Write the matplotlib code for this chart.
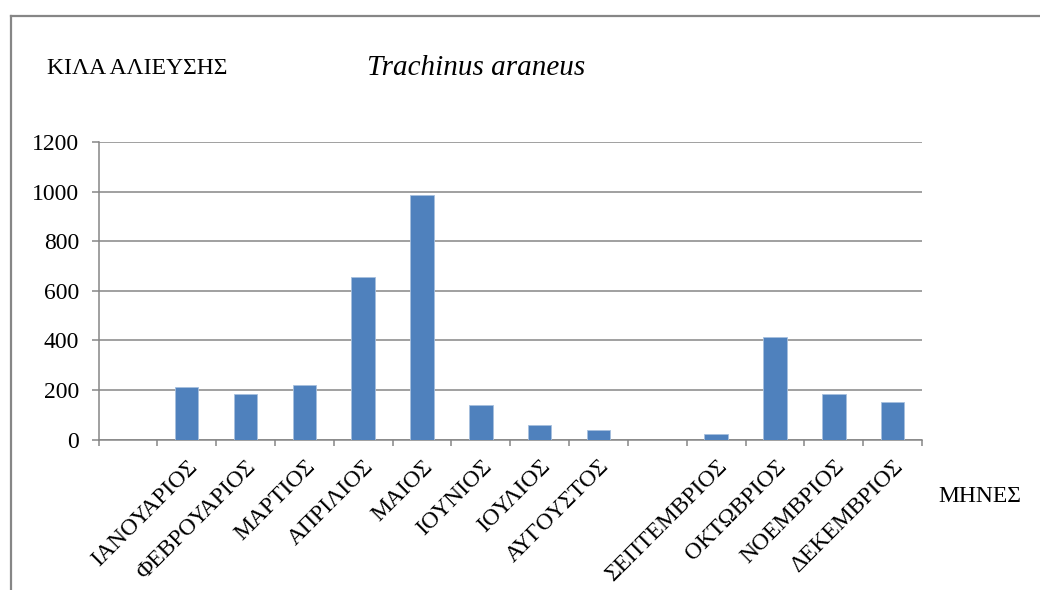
import matplotlib
matplotlib.use("Agg")
import numpy as np
from matplotlib import pyplot as plt
from matplotlib.lines import Line2D

# categories (two empty slots as in the original sheet)
months = [
    "", "ΙΑΝΟΥΑΡΙΟΣ", "ΦΕΒΡΟΥΑΡΙΟΣ", "ΜΑΡΤΙΟΣ", "ΑΠΡΙΛΙΟΣ", "ΜΑΙΟΣ",
    "ΙΟΥΝΙΟΣ", "ΙΟΥΛΙΟΣ", "ΑΥΓΟΥΣΤΟΣ", "", "ΣΕΠΤΕΜΒΡΙΟΣ", "ΟΚΤΩΒΡΙΟΣ",
    "ΝΟΕΜΒΡΙΟΣ", "ΔΕΚΕΜΒΡΙΟΣ",
]
kilos = [0, 210, 184, 218, 656, 986, 139, 58, 38, 0, 24, 412, 182, 152]
yticks = [0, 200, 400, 600, 800, 1000, 1200]

plt.rcParams["font.family"] = ["Liberation Serif", "DejaVu Serif"]
grey = "#868686"

fig = plt.figure(figsize=(10.4, 5.9), dpi=100)
ax = fig.add_axes([98.5 / 1040, 1 - 439.5 / 590, 823.5 / 1040, 297.5 / 590])

x = np.arange(len(months))
ax.bar(x, kilos, width=0.4, color="#4F81BD", edgecolor="#A7C0DE",
       linewidth=0.6, zorder=3)

ax.set_xlim(-0.5, len(months) - 0.5)
ax.set_ylim(0, 1200)
ax.set_yticks(yticks)
ax.set_yticklabels([str(v) for v in yticks], fontsize=17)
ax.yaxis.grid(True, color=grey, linewidth=1.1, zorder=0)

# category boundaries get the tick marks, labels sit in the middle
ax.set_xticks(np.arange(len(months) + 1) - 0.5)
ax.set_xticklabels([])
ax.set_xticks(x, minor=True)
ax.set_xticklabels(months, minor=True, rotation=45, ha="right",
                   rotation_mode="anchor", fontsize=17)
ax.tick_params(axis="x", which="minor", length=0, pad=12)
ax.tick_params(axis="x", which="major", length=4.5, width=1.1, color=grey)
ax.tick_params(axis="y", length=5, width=1.1, color=grey, pad=9)

for side in ["top", "right"]:
    ax.spines[side].set_visible(False)
for side in ["left", "bottom"]:
    ax.spines[side].set_color(grey)
    ax.spines[side].set_linewidth(1.1)

fig.text(47 / 1040, 1 - 69 / 590, "ΚΙΛΑ ΑΛΙΕΥΣΗΣ", fontsize=17, va="center")
fig.text(367 / 1040, 1 - 68 / 590, "Trachinus araneus", fontsize=21,
         style="italic", va="center")
fig.text(938 / 1040, 1 - 497 / 590, "ΜΗΝΕΣ", fontsize=17, va="center")

# outer chart frame (top and left edges visible)
fig.add_artist(Line2D([11 / 1040, 1], [1 - 15.5 / 590, 1 - 15.5 / 590],
                      transform=fig.transFigure, color=grey, linewidth=1.6))
fig.add_artist(Line2D([11 / 1040, 11 / 1040], [0, 1 - 15.5 / 590],
                      transform=fig.transFigure, color=grey, linewidth=1.6))

fig.savefig("out.png", dpi=100)
